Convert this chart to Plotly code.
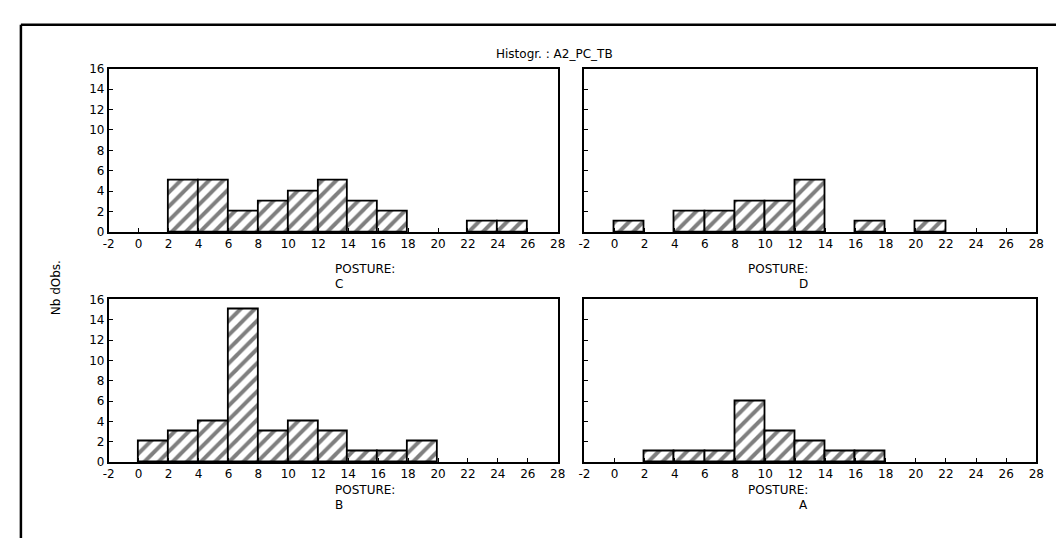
"""
Histogramme A2_PC_TB par posture (C, D, B, A) — 4 panneaux hachurés
"""

import plotly.graph_objects as go

# ── données ──────────────────────────────────────────────────────────────────

TITLE = "Histogr. : A2_PC_TB"
Y_LABEL = "Nb dObs."
X_TICKS = list(range(-2, 29, 2))
X_TICKTEXT = [str(v) for v in X_TICKS]      # tiret simple pour "-2"
Y_TICKS = list(range(0, 17, 2))

postures = ["C", "D", "B", "A"]

# centres de classe (largeur 2) et effectifs
c_centers = [3, 5, 7, 9, 11, 13, 15, 17, 23, 25]
c_counts  = [5, 5, 2, 3, 4, 5, 3, 2, 1, 1]

d_centers = [1, 5, 7, 9, 11, 13, 17, 21]
d_counts  = [1, 2, 2, 3, 3, 5, 1, 1]

b_centers = [1, 3, 5, 7, 9, 11, 13, 15, 17, 19]
b_counts  = [2, 3, 4, 15, 3, 4, 3, 1, 1, 2]

a_centers = [3, 5, 7, 9, 11, 13, 15, 17]
a_counts  = [1, 1, 1, 6, 3, 2, 1, 1]

BIN_W = 2

# ── mise en page (pixels → papier) ──────────────────────────────────────────

W, H = 1064, 538
FONT = "DejaVu Sans"
FS = 12


def _px_x(px: float) -> float:
    return px / W


def _px_y(px: float) -> float:
    return 1 - px / H


# (x0, x1, y_top, y_bottom) en pixels
panels = [
    (96, 551, 55, 223),
    (578, 1036, 55, 223),
    (96, 551, 292, 459),
    (578, 1036, 292, 459),
]
series = [
    (c_centers, c_counts),
    (d_centers, d_counts),
    (b_centers, b_counts),
    (a_centers, a_counts),
]

fig = go.Figure()
layout = dict(
    width=W, height=H,
    margin=dict(l=0, r=0, t=0, b=0),
    paper_bgcolor="white", plot_bgcolor="white",
    showlegend=False,
    font=dict(family=FONT, size=FS, color="black"),
    bargap=0,
)
annotations = []

for i, ((x0, x1, yt, yb), (xs, ys), name) in enumerate(zip(panels, series, postures)):
    n = "" if i == 0 else str(i + 1)
    fig.add_trace(go.Bar(
        x=xs, y=ys, width=BIN_W,
        xaxis=f"x{n}", yaxis=f"y{n}",
        marker=dict(
            color="white",
            line=dict(color="black", width=1.8),
            pattern=dict(shape="/", fgcolor="black", bgcolor="white",
                         size=10, solidity=0.4),
        ),
        hoverinfo="x+y",
    ))

    left = i % 2 == 0
    layout[f"xaxis{n}"] = dict(
        domain=[_px_x(x0), _px_x(x1)], anchor=f"y{n}",
        range=[-2, 28], tickvals=X_TICKS, ticktext=X_TICKTEXT,
        ticks="inside", ticklen=4,
        tickcolor="black", showline=True, linecolor="black", linewidth=1.8,
        mirror=True, showgrid=False, zeroline=False,
        tickfont=dict(size=FS, family=FONT),
    )
    layout[f"yaxis{n}"] = dict(
        domain=[_px_y(yb), _px_y(yt)], anchor=f"x{n}",
        range=[0, 16], tickvals=Y_TICKS, ticks="inside", ticklen=4,
        tickcolor="black", showline=True, linecolor="black", linewidth=1.8,
        mirror=True, showgrid=False, zeroline=False,
        showticklabels=left,
        tickfont=dict(size=FS, family=FONT),
    )

    # libellés sous chaque panneau
    cx = _px_x((x0 + x1) / 2)
    annotations.append(dict(
        x=cx, y=_px_y(yb + 38), xref="paper", yref="paper",
        text="POSTURE:", showarrow=False, font=dict(size=FS),
    ))
    annotations.append(dict(
        x=cx, y=_px_y(yb + 53), xref="paper", yref="paper",
        text=name, showarrow=False, font=dict(size=FS),
    ))

annotations.append(dict(
    x=_px_x(548), y=_px_y(31), xref="paper", yref="paper",
    text=TITLE, showarrow=False, font=dict(size=FS),
))
annotations.append(dict(
    x=_px_x(33), y=_px_y(280), xref="paper", yref="paper",
    text=Y_LABEL, showarrow=False, textangle=-90, font=dict(size=FS),
))

layout["annotations"] = annotations

# cadre extérieur (haut + gauche, déborde à droite et en bas)
layout["shapes"] = [
    dict(type="line", xref="paper", yref="paper",
         x0=_px_x(7), x1=1.0, y0=_px_y(10), y1=_px_y(10),
         line=dict(color="black", width=2.5)),
    dict(type="line", xref="paper", yref="paper",
         x0=_px_x(7), x1=_px_x(7), y0=_px_y(10), y1=0.0,
         line=dict(color="black", width=2.5)),
]

fig.update_layout(**layout)
fig.write_html("out.html")
